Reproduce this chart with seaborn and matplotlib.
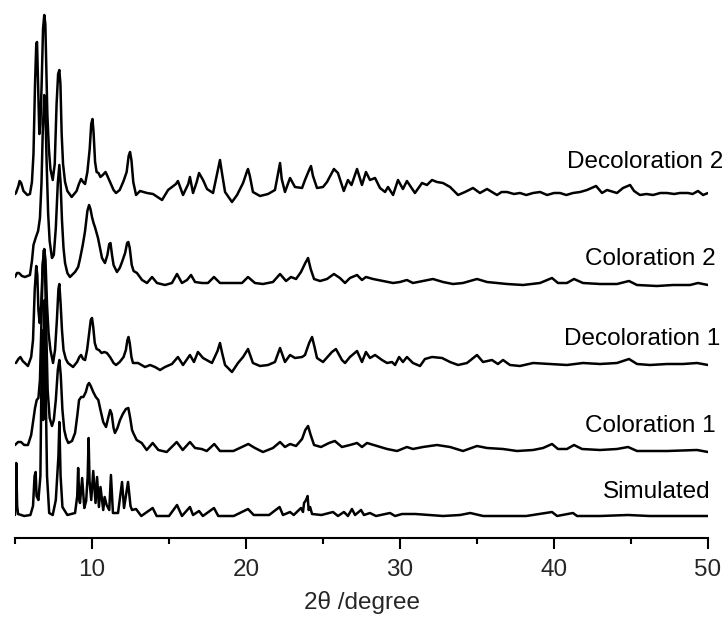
import matplotlib
matplotlib.use('Agg')
import matplotlib.pyplot as plt
from matplotlib.ticker import MultipleLocator
import numpy as np
import pandas as pd
import seaborn as sns

# 2theta (degree) and intensity (a.u., above each pattern's own baseline)
tt_sim = [5.0, 5.04, 5.08, 5.14, 5.2, 5.6, 6.0, 6.17, 6.27, 6.34, 6.40, 6.52, 6.65, 6.75, 6.83, 6.93,
          7.00, 7.08, 7.22, 7.45, 7.65, 7.82, 7.88, 7.96, 8.08, 8.40, 8.90, 9.04, 9.10, 9.18, 9.22, 9.36,
          9.50, 9.62, 9.72, 9.78, 9.84, 9.95, 10.08, 10.23, 10.33, 10.45, 10.55, 10.73, 10.82, 10.95,
          11.12, 11.23, 11.36, 11.69, 11.95, 12.08, 12.34, 12.50, 12.60, 12.86, 13.2, 13.94, 14.2, 15.0,
          15.52, 15.84, 16.36, 16.56, 16.95, 17.2, 17.92, 18.2, 19.2, 20.13, 20.5, 21.5, 22.18, 22.4,
          22.86, 23.1, 23.57, 23.70, 23.77, 23.90, 24.0, 24.07, 24.16, 24.29, 24.9, 25.65, 25.97, 26.36,
          26.62, 26.88, 27.08, 27.47, 27.66, 28.05, 28.44, 29.35, 29.68, 30.13, 31.0, 31.9, 32.8, 33.9,
          34.56, 35.4, 36.7, 38.2, 39.87, 40.2, 41.23, 41.5, 43.0, 44.8, 46.2, 48.4, 50.0]
i_sim = [1, 20, 53, 10, 2, 0, 1, 10, 40, 44, 20, 16, 40, 186, 96, 216,
         120, 40, 3, 1, 16, 60, 94, 40, 9, 1, 3, 20, 48, 16, 13, 38,
         8, 15, 40, 78, 35, 16, 45, 13, 39, 9, 29, 6, 19, 11,
         6, 41, 3, 3, 34, 8, 34, 10, 6, 7, 0, 8, 0, 0,
         11, 0, 9, 1, 5, 0, 8, 0, 0, 7, 1, 1, 9, 1,
         4, 1, 8, 4, 13, 16, 20, 6, 9, 2, 1, 4, 0, 4,
         0, 7, 1, 6, 1, 3, 0, 3, 0, 2, 2, 1, 0, 1,
         3, 0, 0, 0, 4, 0, 3, 0, 0, 1, 0, 0, 0]

tt_col1 = [5.0, 5.2, 5.39, 5.6, 5.84, 6.05, 6.19, 6.30, 6.41, 6.52, 6.62, 6.72, 6.80, 6.88, 6.95, 7.03,
           7.12, 7.25, 7.40, 7.52, 7.65, 7.78, 7.88, 7.97, 8.08, 8.20, 8.32, 8.46, 8.70, 8.90, 9.05,
           9.16, 9.30, 9.44, 9.60, 9.72, 9.81, 9.92, 10.08, 10.25, 10.41, 10.55, 10.73, 10.91, 11.05,
           11.18, 11.28, 11.40, 11.49, 11.65, 11.82, 12.0, 12.20, 12.36, 12.48, 12.60, 12.68, 12.90,
           13.23, 13.55, 13.94, 14.31, 14.85, 15.50, 15.89, 16.36, 16.69, 17.12, 17.45, 17.94, 18.31,
           19.18, 20.15, 20.58, 21.10, 21.75, 22.21, 22.53, 22.86, 23.25, 23.64, 23.85, 24.03, 24.20,
           24.42, 24.87, 25.39, 25.77, 26.23, 26.75, 27.21, 27.53, 27.86, 28.51, 29.16, 29.81, 30.45,
           30.84, 31.49, 32.40, 33.25, 34.09, 35.0, 35.65, 36.69, 37.60, 38.64, 39.29, 39.87, 40.26,
           40.84, 41.30, 41.82, 42.99, 44.09, 44.81, 45.39, 47.34, 49.29, 50.0]
i_col1 = [5, 8, 8, 5, 5, 15, 30, 42, 50, 52, 70, 130, 185, 200, 180, 120,
          60, 32, 24, 30, 50, 80, 90, 75, 40, 20, 12, 7, 9, 17, 35,
          50, 53, 53, 58, 65, 67, 64, 58, 53, 50, 40, 28, 23, 32,
          40, 36, 22, 17, 22, 30, 36, 41, 42, 32, 20, 17, 10,
          7, 0, 7, 0, -2, 8, 0, 8, 2, 1, -1, 6, -1,
          -1, 6, 2, -2, 2, 8, 3, 6, 4, 11, 20, 24, 15,
          5, 3, 7, 9, 3, 5, 7, 3, 7, 4, 1, -1, 3,
          1, 3, 5, 3, -1, 4, 2, 1, -1, 0, 2, 6, 1,
          1, 5, 1, 0, 1, 3, -1, -1, 0, -2]

tt_dec1 = [5.06, 5.22, 5.35, 5.50, 5.84, 6.05, 6.17, 6.28, 6.38, 6.45, 6.52, 6.60, 6.70, 6.80, 6.90,
           6.98, 7.08, 7.18, 7.30, 7.47, 7.60, 7.72, 7.82, 7.88, 7.96, 8.05, 8.15, 8.30, 8.44, 8.77,
           9.03, 9.18, 9.29, 9.42, 9.55, 9.68, 9.82, 9.92, 10.0, 10.08, 10.18, 10.30, 10.45, 10.62,
           10.80, 10.97, 11.17, 11.40, 11.56, 11.80, 12.05, 12.20, 12.30, 12.37, 12.45, 12.56, 12.66,
           12.99, 13.44, 13.77, 14.09, 14.42, 14.74, 15.19, 15.58, 15.91, 16.36, 16.62, 16.88, 17.21,
           17.79, 18.15, 18.31, 18.45, 18.64, 19.09, 19.48, 19.81, 20.13, 20.45, 20.91, 21.43, 21.88,
           22.21, 22.53, 22.86, 23.18, 23.64, 23.83, 24.10, 24.29, 24.45, 24.61, 25.0, 25.58, 25.84,
           26.23, 26.43, 26.75, 27.21, 27.53, 27.79, 28.05, 28.38, 28.83, 29.16, 29.48, 29.68, 29.94,
           30.19, 30.45, 30.84, 31.30, 31.62, 32.08, 32.73, 33.25, 33.77, 34.35, 35.0, 35.39, 35.97,
           36.36, 36.69, 37.14, 37.79, 38.64, 39.74, 40.84, 41.88, 42.99, 44.09, 44.87, 45.39, 46.23,
           47.34, 48.38, 49.29, 50.0]
i_dec1 = [2, 6, 8, 4, -1, 8, 25, 75, 99, 90, 55, 42, 60, 100, 116,
          105, 60, 32, 15, 2, 15, 45, 76, 81, 62, 35, 15, 6, 2, -2,
          3, 8, 10, 6, 5, 15, 32, 45, 47, 38, 22, 16, 15, 12,
          13, 12, 8, 2, 0, 3, 8, 15, 25, 28, 22, 8, 2,
          2, -2, 0, -2, -5, -2, 1, 8, 0, 10, 3, 13, 7,
          2, 14, 22, 12, 0, -7, 2, 8, 16, 2, -1, 0, 3,
          17, 3, 10, 7, 8, 10, 22, 28, 18, 7, 3, 13, 16,
          5, 2, 8, 14, 3, 13, 7, 10, 5, 2, 3, 0, 8,
          3, 8, 2, -1, 6, 8, 7, 3, 0, 2, 10, 3, 5,
          1, 5, 0, -1, 2, 1, 0, 2, 1, 2, 6, 1, 0,
          1, 1, 2, 0]

tt_col2 = [5.0, 5.13, 5.26, 5.45, 5.65, 5.97, 6.10, 6.20, 6.36, 6.50, 6.62, 6.72, 6.80, 6.90, 6.97,
           7.05, 7.15, 7.25, 7.40, 7.52, 7.65, 7.78, 7.88, 7.96, 8.05, 8.15, 8.25, 8.40, 8.57, 8.90,
           9.10, 9.22, 9.40, 9.55, 9.70, 9.81, 9.90, 10.0, 10.10, 10.19, 10.30, 10.39, 10.52, 10.65,
           10.84, 11.0, 11.12, 11.20, 11.30, 11.40, 11.62, 11.80, 11.95, 12.15, 12.28, 12.36, 12.45,
           12.58, 12.70, 12.92, 13.25, 13.57, 13.90, 14.22, 14.74, 15.19, 15.52, 15.84, 16.17, 16.43,
           16.69, 17.14, 17.53, 17.92, 18.31, 18.96, 19.74, 20.13, 20.58, 21.10, 21.75, 22.21, 22.60,
           22.92, 23.25, 23.57, 23.85, 24.03, 24.20, 24.42, 24.81, 25.26, 25.71, 26.10, 26.43, 26.75,
           27.21, 27.53, 27.79, 28.25, 28.90, 29.55, 30.0, 30.45, 30.84, 31.49, 32.14, 32.79, 33.44,
           34.09, 35.0, 35.65, 36.30, 36.95, 37.99, 39.09, 39.87, 40.26, 40.84, 41.30, 41.88, 42.99,
           44.09, 44.87, 45.39, 46.69, 47.73, 48.83, 49.35, 50.0]
i_col2 = [6, 10, 10, 7, 6, 8, 22, 38, 46, 52, 65, 100, 150, 188, 175,
          123, 70, 42, 25, 28, 55, 100, 118, 100, 63, 35, 20, 10, 6, 11,
          16, 24, 38, 52, 72, 78, 74, 66, 60, 56, 50, 45, 35, 25,
          20, 28, 39, 40, 28, 18, 11, 15, 21, 30, 40, 41, 35,
          18, 12, 10, 3, 0, 6, 0, -2, 0, 9, 0, 3, 8,
          1, 0, 0, 6, 0, 0, 0, 6, 0, -1, 1, 9, 2,
          6, 4, 11, 20, 25, 14, 4, 2, 4, 9, 5, 0, 5,
          8, 3, 6, 4, 2, 0, 1, 3, 0, 2, 4, 1, -1,
          0, 4, 1, 0, -1, -2, 0, 5, 0, 0, 4, 0, -1,
          -1, 2, -2, -3, -2, -2, 0, -2]

tt_dec2 = [5.0, 5.06, 5.22, 5.30, 5.40, 5.55, 5.80, 5.97, 6.10, 6.20, 6.30, 6.38, 6.43, 6.50, 6.58,
           6.65, 6.73, 6.82, 6.90, 6.97, 7.03, 7.10, 7.20, 7.30, 7.45, 7.58, 7.70, 7.80, 7.88, 7.95,
           8.03, 8.12, 8.25, 8.40, 8.68, 9.0, 9.15, 9.29, 9.42, 9.55, 9.70, 9.85, 9.95, 10.03, 10.10,
           10.20, 10.30, 10.42, 10.55, 10.70, 10.88, 11.0, 11.17, 11.40, 11.56, 11.80, 12.05, 12.25,
           12.38, 12.47, 12.56, 12.68, 12.86, 13.12, 13.57, 13.96, 14.55, 14.94, 15.45, 15.58, 15.91,
           16.25, 16.36, 16.56, 16.80, 16.95, 17.21, 17.47, 17.86, 18.15, 18.31, 18.45, 18.64, 19.09,
           19.42, 19.81, 20.05, 20.13, 20.25, 20.45, 20.91, 21.43, 21.88, 22.10, 22.21, 22.32, 22.53,
           22.86, 23.18, 23.64, 23.83, 24.10, 24.22, 24.35, 24.61, 25.0, 25.26, 25.71, 25.97, 26.35,
           26.62, 26.85, 27.21, 27.53, 27.79, 28.05, 28.38, 28.70, 29.03, 29.22, 29.55, 29.87, 30.19,
           30.45, 30.97, 31.43, 31.75, 32.08, 32.40, 32.79, 33.25, 33.77, 34.22, 34.74, 35.19, 35.65,
           36.30, 36.6, 36.95, 37.4, 37.79, 38.2, 38.64, 39.1, 39.55, 40.0, 40.39, 40.8, 41.23, 41.7,
           42.14, 42.73, 43.12, 43.44, 44.09, 44.48, 44.94, 45.2, 45.58, 46.0, 46.43, 46.9, 47.34,
           47.8, 48.18, 48.70, 49.0, 49.35, 49.68, 50.0]
i_dec2 = [0, 1, 8, 13, 11, 3, -1, 0, 12, 40, 110, 150, 152, 110, 60,
          70, 110, 165, 179, 170, 130, 80, 45, 25, 14, 30, 90, 120, 124, 110,
          60, 30, 12, 3, -3, 3, 10, 15, 12, 10, 22, 45, 70, 75, 62,
          32, 22, 21, 17, 19, 22, 18, 12, 4, 1, 4, 13, 22,
          38, 42, 34, 12, -1, 3, 1, 0, -6, 4, 10, 13, -1,
          10, 17, 1, 12, 21, 14, 5, 1, 22, 34, 20, 2, -8,
          -1, 11, 22, 25, 18, 2, -2, 0, 4, 22, 31, 15, 2,
          16, 7, 6, 14, 24, 28, 18, 6, 7, 12, 25, 21, 3,
          14, 9, 25, 9, 22, 14, 16, 6, 2, 7, -1, 14, 5,
          13, 1, 11, 9, 14, 12, 11, 7, -1, 2, 6, 1, 5,
          -1, 2, 2, 0, 1, -1, 1, 2, -1, 1, 1, -1, 1, 2,
          4, 8, 1, 4, 1, 6, 9, 3, -1, 0, -1, 1, 1,
          0, 1, 1, 0, 3, -1, 1]

names = ['Simulated', 'Coloration 1', 'Decoloration 1', 'Coloration 2', 'Decoloration 2']

sns.set_theme(style='ticks')
plt.rcParams['font.family'] = ['Liberation Sans', 'DejaVu Sans']

fig = plt.figure(figsize=(7.28, 6.17), dpi=100)
ax = fig.add_axes([15 / 728, 1 - 538 / 617, 693 / 728, 538 / 617])

patterns = [(tt_sim, i_sim), (tt_col1, i_col1), (tt_dec1, i_dec1), (tt_col2, i_col2), (tt_dec2, i_dec2)]
offsets = [22, 88, 173, 255, 344]
label_pos = [(50.19, 40), (50.52, 106), (50.78, 193), (50.52, 273), (50.97, 370)]

for (tt, inten), off, name, (lx, ly) in zip(patterns, offsets, names, label_pos):
    df = pd.DataFrame({'tt': tt, 'y': np.array(inten) + off})
    sns.lineplot(data=df, x='tt', y='y', color='black', lw=1.8, ax=ax,
                 estimator=None, sort=False)
    ax.text(lx, ly, name, ha='right', va='baseline', fontsize=17.5, color='black')

ax.set_xlim(5, 50)
ax.set_ylim(0, 538)
ax.xaxis.set_major_locator(MultipleLocator(10))
ax.xaxis.set_minor_locator(MultipleLocator(5))
ax.set_yticks([])
ax.set_ylabel('')
ax.set_xlabel('2θ /degree', fontsize=17.5, labelpad=7)
ax.tick_params(axis='x', which='major', direction='out', length=8, width=1.5,
               labelsize=17.5, pad=7, color='black')
ax.tick_params(axis='x', which='minor', direction='out', length=4, width=1.5, color='black')
for s in ['left', 'right', 'top']:
    ax.spines[s].set_visible(False)
ax.spines['bottom'].set_linewidth(1.5)
ax.spines['bottom'].set_color('black')
ax.patch.set_alpha(0)

fig.savefig('out.png', dpi=100)
